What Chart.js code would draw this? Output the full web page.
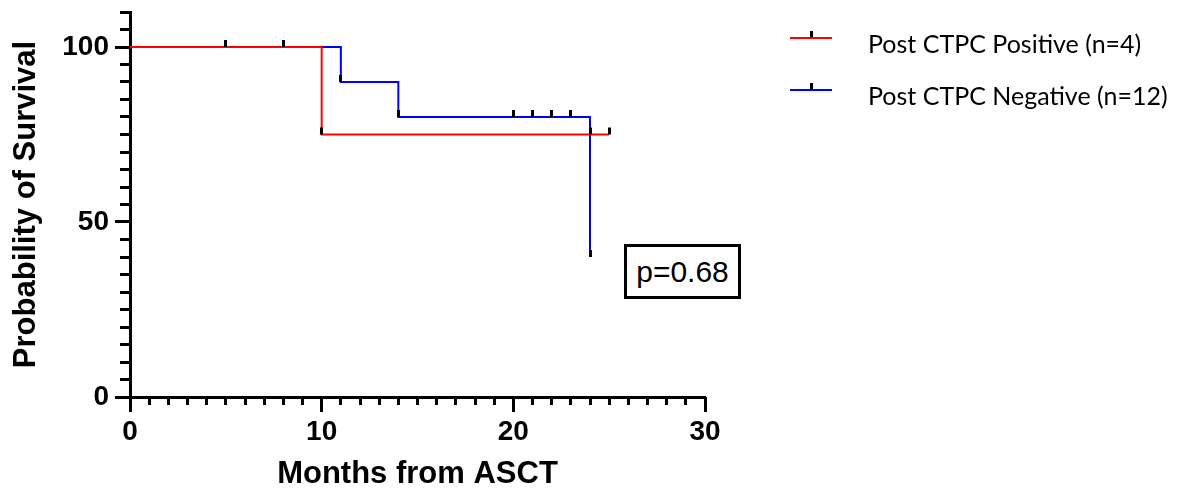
<!DOCTYPE html>
<html>
<head>
<meta charset="utf-8">
<script src="https://cdn.jsdelivr.net/npm/chart.js@4/dist/chart.umd.min.js"></script>
<style>
  html, body { margin: 0; padding: 0; background: #fff; }
  #wrap { position: relative; width: 1200px; height: 493px; overflow: hidden; }
  #c { position: absolute; left: 0; top: 0; }
  .leg { position: absolute; left: 790px; width: 42px; height: 2px; }
  .leg .tk { position: absolute; left: 20px; top: -6px; width: 3px; height: 6px; background: #000; }
  .legtxt { position: absolute; left: 868px; font-family: Lato, "Open Sans", sans-serif; font-size: 25px; color: #000; white-space: nowrap; line-height: 30px; }
  #pbox { position: absolute; left: 624px; top: 244px; width: 111px; height: 49px; border: 3px solid #000;
          font-family: "Liberation Sans", Arial, sans-serif; font-size: 30px; color: #000;
          display: flex; align-items: center; justify-content: center; background: #fff; }
</style>
</head>
<body>
<div id="wrap">
  <canvas id="c" width="1200" height="493"></canvas>
  <div class="leg" style="top:37px;background:#ff0000;"><div class="tk"></div></div>
  <div class="legtxt" style="top:28px;">Post CTPC Positive (n=4)</div>
  <div class="leg" style="top:89px;background:#0000ff;"><div class="tk"></div></div>
  <div class="legtxt" style="top:80px;">Post CTPC Negative (n=12)</div>
  <div id="pbox">p=0.68</div>
</div>
<script>
// Kaplan-Meier step data
const posTimes = [0, 10, 25];
const posSurv  = [100, 75, 75];
const negTimes = [0, 11, 14, 24];
const negSurv  = [100, 90, 80, 40];
// Censored observations
const posCensorTimes = [10, 24, 25];
const posCensorSurv  = [75, 75, 75];
const negCensorTimes = [5, 8, 11, 14, 20, 21, 22, 23, 24];
const negCensorSurv  = [100, 100, 90, 80, 80, 80, 80, 80, 40];
// Axis tick values
const xMajorTicks = [0, 10, 20, 30];
const yMajorTicks = [0, 50, 100];

function toPts(xs, ys) { return xs.map((x, i) => ({ x: x, y: ys[i] })); }

function makeTick() {
  const c = document.createElement('canvas');
  c.width = 3; c.height = 16;
  const g = c.getContext('2d');
  g.fillStyle = '#000';
  g.fillRect(0, 1, 3, 7);
  return c;
}
const tickImg = makeTick();

const tickFont = { family: '"Liberation Sans", Arial, sans-serif', size: 28, weight: 'bold' };
const titleFont = { family: '"Liberation Sans", Arial, sans-serif', size: 31, weight: 'bold' };

function noPad(s) { s.paddingTop = 0; s.paddingBottom = 0; }

new Chart(document.getElementById('c'), {
  type: 'scatter',
  data: {
    datasets: [
      { label: 'Post CTPC Positive (n=4)', data: toPts(posTimes, posSurv), showLine: true, stepped: true,
        borderColor: '#ff0000', borderWidth: 2, pointRadius: 0, fill: false, order: 1, xAxisID: 'x', yAxisID: 'y' },
      { label: 'Post CTPC Negative (n=12)', data: toPts(negTimes, negSurv), showLine: true, stepped: true,
        borderColor: '#0000ff', borderWidth: 2, pointRadius: 0, fill: false, order: 2, xAxisID: 'x', yAxisID: 'y' },
      { label: 'pos censored', data: toPts(posCensorTimes, posCensorSurv), showLine: false,
        pointStyle: tickImg, pointRadius: 3, order: 0, xAxisID: 'x', yAxisID: 'y' },
      { label: 'neg censored', data: toPts(negCensorTimes, negCensorSurv), showLine: false,
        pointStyle: tickImg, pointRadius: 3, order: 0, xAxisID: 'x', yAxisID: 'y' }
    ]
  },
  options: {
    responsive: false,
    animation: false,
    layout: { padding: { top: 12, right: 495, left: 0, bottom: 0 } },
    plugins: { legend: { display: false }, tooltip: { enabled: false } },
    scales: {
      x: {
        type: 'linear', position: 'bottom', min: 0, max: 30, weight: 1,
        afterBuildTicks: (s) => { s.ticks = xMajorTicks.map(v => ({ value: v })); },
        ticks: { font: tickFont, color: '#000', padding: 3 },
        grid: { drawOnChartArea: false, drawTicks: true, tickLength: 15, tickWidth: 3, tickColor: '#000' },
        border: { display: true, color: '#000', width: 3 },
        title: { display: true, text: 'Months from ASCT', font: titleFont, color: '#000', padding: 0 },
        afterFit: (s) => { s.height = 96; }
      },
      xm: {
        type: 'linear', position: 'bottom', min: 0, max: 30, weight: 0,
        ticks: { stepSize: 1, display: false, includeBounds: false },
        grid: { drawOnChartArea: false, drawTicks: true, tickLength: 8, tickWidth: 3, tickColor: '#000' },
        border: { display: false },
        afterFit: (s) => { s.height = 0; }
      },
      y: {
        type: 'linear', position: 'left', min: 0, max: 110, weight: 1,
        afterBuildTicks: (s) => { s.ticks = yMajorTicks.map(v => ({ value: v })); },
        ticks: { font: tickFont, color: '#000', padding: 6 },
        grid: { drawOnChartArea: false, drawTicks: true, tickLength: 15, tickWidth: 3, tickColor: '#000' },
        border: { display: true, color: '#000', width: 3 },
        title: { display: true, text: 'Probability of Survival', font: titleFont, color: '#000', padding: { top: 8, bottom: 0 } },
        afterFit: (s) => { s.width = 130; noPad(s); }
      },
      ym: {
        type: 'linear', position: 'left', min: 0, max: 110, weight: 0,
        ticks: { stepSize: 5, display: false, includeBounds: false },
        grid: { drawOnChartArea: false, drawTicks: true, tickLength: 10, tickWidth: 3, tickColor: '#000' },
        border: { display: false },
        afterFit: (s) => { s.width = 0; noPad(s); }
      }
    }
  }
});
</script>
</body>
</html>
